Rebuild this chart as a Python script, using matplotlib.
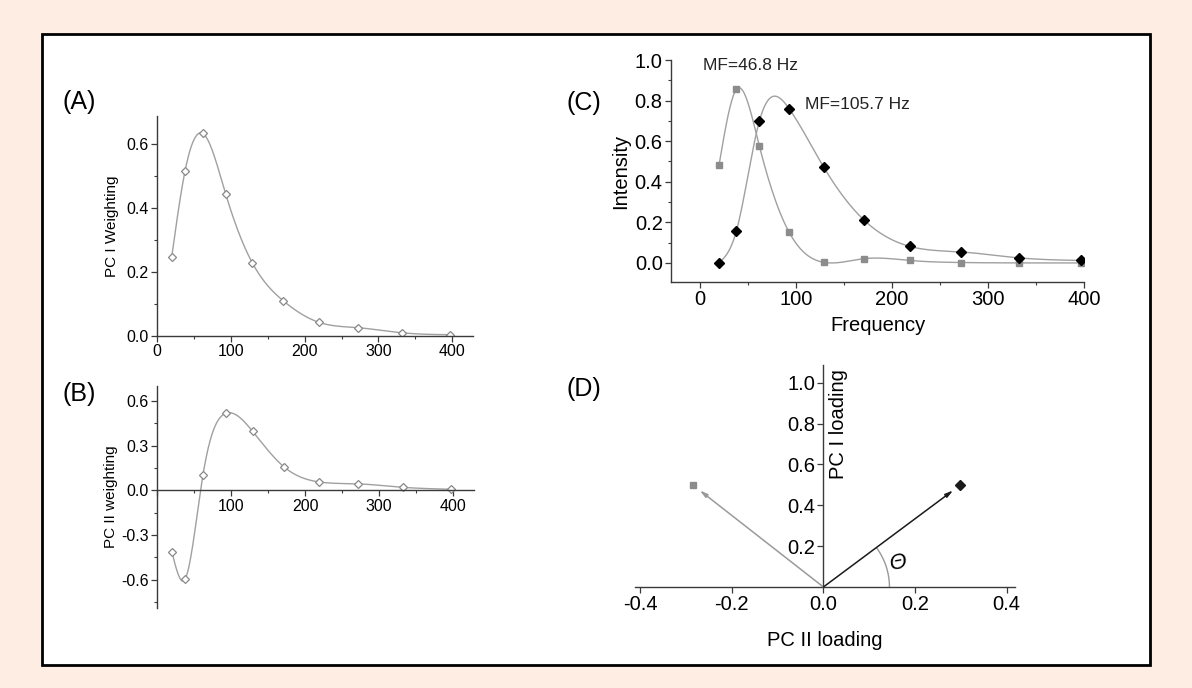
import numpy as np
import matplotlib
matplotlib.use("Agg")
import matplotlib.pyplot as plt
from matplotlib.patches import Rectangle, Arc
from matplotlib.ticker import MultipleLocator, FuncFormatter

plt.rcParams['font.family'] = ['Liberation Sans', 'DejaVu Sans']
plt.rcParams['axes.unicode_minus'] = False

# ---------------- data ----------------
freq = [20, 38, 62, 93, 129, 171, 219, 272, 332, 397]
pc1_weight = [0.248, 0.516, 0.633, 0.444, 0.229, 0.110, 0.043, 0.026, 0.010, 0.004]
pc2_weight = [-0.412, -0.596, 0.101, 0.517, 0.396, 0.159, 0.056, 0.043, 0.020, 0.007]
int_low = [0.482, 0.855, 0.576, 0.151, 0.003, 0.021, 0.012, 0.002, 0.0, 0.0]
int_high = [0.0, 0.156, 0.699, 0.760, 0.472, 0.211, 0.081, 0.054, 0.025, 0.012]
mf_labels = ["MF=46.8 Hz", "MF=105.7 Hz"]
load_pc2 = [-0.284, 0.298]
load_pc1 = [0.498, 0.498]
panel_labels = ["(A)", "(B)", "(C)", "(D)"]


def natural_spline(x, y, n=400):
    x = np.asarray(x, float)
    y = np.asarray(y, float)
    m = len(x)
    h = np.diff(x)
    A = np.zeros((m, m))
    b = np.zeros(m)
    A[0, 0] = 1
    A[-1, -1] = 1
    for i in range(1, m - 1):
        A[i, i - 1] = h[i - 1]
        A[i, i] = 2 * (h[i - 1] + h[i])
        A[i, i + 1] = h[i]
        b[i] = 6 * ((y[i + 1] - y[i]) / h[i] - (y[i] - y[i - 1]) / h[i - 1])
    M = np.linalg.solve(A, b)
    xs = np.linspace(x[0], x[-1], n)
    idx = np.clip(np.searchsorted(x, xs) - 1, 0, m - 2)
    x0 = x[idx]; x1 = x[idx + 1]; hh = x1 - x0
    ys = (M[idx] * (x1 - xs) ** 3 / (6 * hh) + M[idx + 1] * (xs - x0) ** 3 / (6 * hh)
          + (y[idx] / hh - M[idx] * hh / 6) * (x1 - xs)
          + (y[idx + 1] / hh - M[idx + 1] * hh / 6) * (xs - x0))
    return xs, ys


W, H = 1192, 688
fig = plt.figure(figsize=(W / 100, H / 100), dpi=100)
fig.patch.set_facecolor('#fdede3')

# white framed box
box = Rectangle((42 / W, 1 - 665 / H), (1150 - 42) / W, (665 - 34) / H,
                transform=fig.transFigure, facecolor='white',
                edgecolor='black', lw=2, zorder=-10)
fig.add_artist(box)


def px_axes(l, r, t, b):
    return fig.add_axes([l / W, 1 - b / H, (r - l) / W, (b - t) / H])


spine_c = '#3a3a3a'
curve_c = '#a0a0a0'


def style(ax, fs):
    for s in ['top', 'right']:
        ax.spines[s].set_visible(False)
    for s in ['left', 'bottom']:
        ax.spines[s].set_color(spine_c)
        ax.spines[s].set_linewidth(1.0)
    ax.tick_params(which='major', direction='out', length=4, width=0.9, color=spine_c,
                   labelsize=fs, pad=2)
    ax.tick_params(which='minor', direction='out', length=2.5, width=0.8, color=spine_c)
    ax.patch.set_alpha(0)


# ---------------- panel A ----------------
axA = px_axes(157, 473, 116, 336)
style(axA, 11.5)
xs, ys = natural_spline(freq, pc1_weight)
axA.plot(xs, ys, color=curve_c, lw=1.0)
axA.plot(freq, pc1_weight, ls='none', marker='D', ms=4, mfc='white', mec='#888888', mew=0.9)
axA.set_xlim(0, 428)
axA.set_ylim(0, 0.6875)
axA.xaxis.set_major_locator(MultipleLocator(100))
axA.xaxis.set_minor_locator(MultipleLocator(50))
axA.yaxis.set_major_locator(MultipleLocator(0.2))
axA.yaxis.set_minor_locator(MultipleLocator(0.1))
axA.yaxis.set_major_formatter(FuncFormatter(lambda v, p: f"{v:.1f}"))
axA.set_ylabel("PC I Weighting", fontsize=11, labelpad=5)

# ---------------- panel B ----------------
axB = px_axes(157, 474, 386, 608)
style(axB, 11.5)
xs, ys = natural_spline(freq, pc2_weight)
axB.plot(xs, ys, color=curve_c, lw=1.0)
axB.plot(freq, pc2_weight, ls='none', marker='D', ms=4, mfc='white', mec='#888888', mew=0.9)
axB.set_xlim(0, 428)
axB.set_ylim(-0.79, 0.70)
axB.spines['bottom'].set_position(('data', 0))
axB.xaxis.set_major_locator(MultipleLocator(100))
axB.xaxis.set_minor_locator(MultipleLocator(50))
axB.xaxis.set_major_formatter(FuncFormatter(lambda v, p: "" if abs(v) < 1e-9 else f"{v:.0f}"))
axB.yaxis.set_major_locator(MultipleLocator(0.3))
axB.yaxis.set_minor_locator(MultipleLocator(0.15))
axB.yaxis.set_major_formatter(FuncFormatter(lambda v, p: f"{v:.1f}"))
axB.set_ylabel("PC II weighting", fontsize=11, labelpad=2)

# ---------------- panel C ----------------
axC = px_axes(671, 1084, 60, 282)
style(axC, 14.5)
xs, ys = natural_spline(freq, int_low)
axC.plot(xs, ys, color=curve_c, lw=1.0)
xs, ys = natural_spline(freq, int_high)
axC.plot(xs, ys, color=curve_c, lw=1.0)
axC.plot(freq, int_low, ls='none', marker='s', ms=4.5, mfc='#8c8c8c', mec='#8c8c8c')
axC.plot(freq, int_high, ls='none', marker='D', ms=5.5, mfc='black', mec='black')
axC.set_xlim(-30, 400)
axC.set_ylim(-0.094, 1.0)
axC.xaxis.set_major_locator(MultipleLocator(100))
axC.xaxis.set_minor_locator(MultipleLocator(50))
axC.yaxis.set_major_locator(MultipleLocator(0.2))
axC.yaxis.set_minor_locator(MultipleLocator(0.1))
axC.yaxis.set_major_formatter(FuncFormatter(lambda v, p: f"{v:.1f}"))
axC.set_ylabel("Intensity", fontsize=14.5, labelpad=3)
axC.set_xlabel("Frequency", fontsize=14.5, labelpad=5)
axC.text(3, 0.975, mf_labels[0], fontsize=12.5, ha='left', va='center', color='#222222')
axC.text(109, 0.78, mf_labels[1], fontsize=12.5, ha='left', va='center', color='#222222')

# ---------------- panel D ----------------
axD = px_axes(635, 1015, 365, 587)
style(axD, 14.5)
axD.set_xlim(-0.411, 0.418)
axD.set_ylim(0, 1.087)
axD.spines['left'].set_position(('data', 0))
axD.xaxis.set_major_locator(MultipleLocator(0.2))
axD.xaxis.set_major_formatter(FuncFormatter(lambda v, p: f"{v:.1f}"))
axD.set_yticks([0.2, 0.4, 0.6, 0.8, 1.0])
axD.yaxis.set_major_formatter(FuncFormatter(lambda v, p: f"{v:.1f}"))
axD.set_xlabel("PC II loading", fontsize=14.5, labelpad=12)
axD.text(0.012, 0.80, "PC I loading", rotation=90, fontsize=14.5, ha='left', va='center')
vec_colors = ['#9a9a9a', '#1a1a1a']
for px_, py_, c, mk, ms in zip(load_pc2, load_pc1, vec_colors, ['s', 'D'], [4.5, 5]):
    axD.annotate("", xy=(px_ * 0.95, py_ * 0.95), xytext=(0, 0),
                 arrowprops=dict(arrowstyle='-|>,head_length=0.45,head_width=0.12',
                                 color=c, lw=1.1, shrinkA=0, shrinkB=0))
    axD.plot([px_], [py_], marker=mk, ms=ms, color=c if mk == 'D' else '#8c8c8c', ls='none',
             clip_on=False)
ang_data = np.degrees(np.arctan2(load_pc1[1], load_pc2[1]))
axD.add_patch(Arc((0, 0), 2 * 66 / 458, 2 * 66 / 204, theta1=0, theta2=ang_data,
                  color='#999999', lw=1.0))
axD.text(0.163, 0.115, "Θ", fontsize=16, style='italic', rotation=10,
         ha='center', va='center')

# panel labels
fig.text(63 / W, 1 - 102 / H, panel_labels[0], fontsize=18, ha='left', va='center')
fig.text(63 / W, 1 - 394 / H, panel_labels[1], fontsize=18, ha='left', va='center')
fig.text(566 / W, 1 - 103 / H, panel_labels[2], fontsize=18, ha='left', va='center')
fig.text(566 / W, 1 - 389 / H, panel_labels[3], fontsize=18, ha='left', va='center')

fig.savefig("out.png", dpi=100, facecolor=fig.get_facecolor())
